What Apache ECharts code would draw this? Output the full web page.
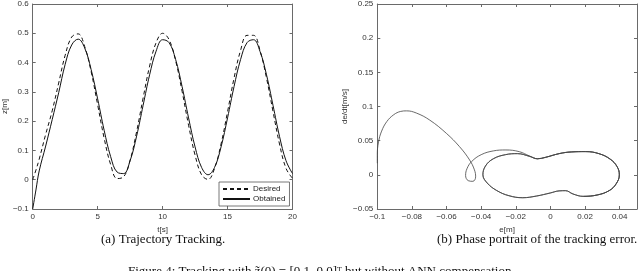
<!DOCTYPE html>
<html>
<head>
<meta charset="utf-8">
<script src="https://cdn.jsdelivr.net/npm/echarts@6/dist/echarts.min.js"></script>
<style>
html,body{margin:0;padding:0;background:#fff;overflow:hidden;}
#c{width:640px;height:271px;}
</style>
</head>
<body>
<div id="c"></div>
<script>
// ---- Data ----
const timeS = [0,0.25,0.5,1,1.5,2,2.5,3,3.5,4,4.5,5,5.5,6,6.5,7,7.5,8,8.5,9,9.5,10,10.5,11,11.5,12,12.5,13,13.5,14,14.5,15,15.5,16,16.5,17,17.5,18,18.5,19,19.5,20];
const desiredZ = [0,0.033,0.07,0.155,0.235,0.33,0.425,0.487,0.498,0.455,0.369,0.256,0.142,0.052,0.004,0.010,0.067,0.164,0.279,0.388,0.468,0.500,0.478,0.407,0.302,0.186,0.084,0.017,0.001,0.039,0.122,0.232,0.347,0.441,0.493,0.493,0.441,0.347,0.233,0.122,0.039,0.005];
const obtainedZ = [-0.1,-0.035,0.03,0.115,0.205,0.297,0.394,0.460,0.480,0.450,0.376,0.276,0.169,0.079,0.026,0.021,0.065,0.149,0.254,0.358,0.439,0.478,0.468,0.411,0.318,0.211,0.112,0.042,0.017,0.042,0.112,0.211,0.318,0.410,0.468,0.478,0.438,0.358,0.254,0.148,0.065,0.021];

const phaseE = [
 -0.1,-0.1,-0.0993,-0.0975,-0.0945,-0.0905,-0.0865,-0.0831,-0.0775,-0.0697,-0.0601,-0.0525,-0.0467,-0.0439,-0.0432,-0.0448,-0.0475,-0.049,-0.0482,-0.0455,-0.0400,-0.0330,-0.0257,-0.0180,-0.0120,-0.0075,
 -0.0030,0.0050,0.0120,0.0203,0.0280,0.0345,0.0385,0.0398,0.0380,0.0340,0.0270,0.0190,0.0130,0.0088,0.0050,0.0000,-0.0080,-0.0160,-0.0240,-0.0310,-0.0365,-0.0390,-0.0375,-0.0330,-0.0260,-0.0190,-0.0120,-0.0075,
 -0.0030,0.0050,0.0120,0.0203,0.0280,0.0345,0.0385,0.0398,0.0380,0.0340,0.0270,0.0190,0.0130,0.0088,0.0050,0.0000,-0.0080,-0.0160,-0.0240,-0.0310,-0.0365,-0.0390,-0.0375,-0.0330,-0.0260,-0.0190,-0.0120,-0.0075,
 -0.0030,0.0050,0.0120,0.0203,0.0280,0.0345,0.0385,0.0398,0.0380,0.0340,0.0270,0.0190
];
const phaseD = [
 0.017,0.03,0.048,0.064,0.078,0.088,0.0928,0.0936,0.0905,0.0801,0.0607,0.0412,0.0218,0.0073,-0.003,-0.0095,-0.0085,-0.001,0.009,0.0195,0.0295,0.0350,0.0364,0.0339,0.0275,0.0235,
 0.0255,0.0310,0.0335,0.0340,0.0310,0.0230,0.0120,0.0,-0.0130,-0.0230,-0.0295,-0.0315,-0.0280,-0.0232,-0.0235,-0.0265,-0.0310,-0.0335,-0.0305,-0.0230,-0.0120,0.0,0.0130,0.0235,0.0295,0.0310,0.0270,0.0235,
 0.0255,0.0310,0.0335,0.0340,0.0310,0.0230,0.0120,0.0,-0.0130,-0.0230,-0.0295,-0.0315,-0.0280,-0.0232,-0.0235,-0.0265,-0.0310,-0.0335,-0.0305,-0.0230,-0.0120,0.0,0.0130,0.0235,0.0295,0.0310,0.0270,0.0235,
 0.0255,0.0310,0.0335,0.0340,0.0310,0.0230,0.0120,0.0,-0.0130,-0.0230,-0.0295,-0.0315
];

const seriesNames = ['Desired','Obtained'];
const captionA = '(a) Trajectory Tracking.';
const captionB = '(b) Phase portrait of the tracking error.';
const figCaption = 'Figure 4: Tracking with z\u0303(0) = [0.1, 0.0]\u1d40 but without ANN compensation.';

// ---- Build ----
const font = 'Liberation Sans, Arial, sans-serif';
const axisCol = '#6a6a6a';
const labCol = '#333';
function fmt(v, hideMax){
  if (hideMax !== undefined && Math.abs(v - hideMax) < 1e-9) return '';
  let s = String(+v.toFixed(4));
  return s.replace('-', '\u2212');
}
function mkAxis(gridIndex, position, min, max, interval, showLabel, name, nameGap, hideMax){
  return {
    type:'value', gridIndex, position, min, max, interval,
    axisLine:{show:true, onZero:false, lineStyle:{color:axisCol, width:1}},
    axisTick:{show:true, inside:true, length:3, lineStyle:{color:axisCol}},
    axisLabel:{show:showLabel, fontSize:8, color:labCol, fontFamily:font, margin:4,
      formatter:(v)=>fmt(v, hideMax)},
    splitLine:{show:false},
    name: name || '', nameLocation:'middle', nameGap: nameGap || 0,
    nameTextStyle:{fontSize:8, color:labCol, fontFamily:font}
  };
}

const chart = echarts.init(document.getElementById('c'), null, {renderer:'canvas'});
const option = {
  backgroundColor:'#fff',
  animation:false,
  grid:[
    {left:29.5, top:3.5, width:263, height:205.5, containLabel:false},
    {left:377.3, top:3.3, width:261, height:205.7, containLabel:false}
  ],
  xAxis:[
    mkAxis(0,'bottom',0,20,5,true,'t[s]',14),
    mkAxis(0,'top',0,20,5,false),
    mkAxis(1,'bottom',-0.1,0.05,0.02,true,'e[m]',14,0.05),
    mkAxis(1,'top',-0.1,0.05,0.02,false)
  ],
  yAxis:[
    mkAxis(0,'left',-0.1,0.6,0.1,true,'z[m]',20),
    mkAxis(0,'right',-0.1,0.6,0.1,false),
    mkAxis(1,'left',-0.05,0.25,0.05,true,'de/dt[m/s]',27),
    mkAxis(1,'right',-0.05,0.25,0.05,false)
  ],
  legend:{
    data:seriesNames,
    orient:'vertical', left:219, top:182,
    itemWidth:27, itemHeight:9, itemGap:2,
    padding:[3,4,3,3],
    itemStyle:{opacity:0, borderWidth:0},
    borderColor:'#555', borderWidth:0.8, backgroundColor:'#fff',
    textStyle:{fontSize:8, color:'#222', fontFamily:font, padding:[0,0,0,-2]},
    z:10
  },
  series:[
    {name:seriesNames[0], type:'line', xAxisIndex:0, yAxisIndex:0,
     data: timeS.map((t,i)=>[t, desiredZ[i]]), smooth:0.4, symbol:'none', showSymbol:false,
     lineStyle:{color:'#111', width:1, type:[4,3]}, itemStyle:{color:'#111'}},
    {name:seriesNames[1], type:'line', xAxisIndex:0, yAxisIndex:0,
     data: timeS.map((t,i)=>[t, obtainedZ[i]]), smooth:0.4, symbol:'none', showSymbol:false,
     lineStyle:{color:'#111', width:1}, itemStyle:{color:'#111'}},
    {name:'phase', type:'line', xAxisIndex:2, yAxisIndex:2,
     data: phaseE.map((e,i)=>[e, phaseD[i]]), smooth:0.4, symbol:'none', showSymbol:false,
     lineStyle:{color:'#444', width:0.8}, itemStyle:{color:'#444'}}
  ],
  graphic:[
    {type:'text', left:101, top:233, style:{text:captionA, font:'13px "Liberation Serif", serif', fill:'#111'}},
    {type:'text', left:437, top:233, style:{text:captionB, font:'13px "Liberation Serif", serif', fill:'#111'}},
    {type:'text', left:128, top:265.5, style:{text:figCaption, font:'13px "Liberation Serif", serif', fill:'#111'}}
  ]
};
chart.setOption(option);
</script>
</body>
</html>
